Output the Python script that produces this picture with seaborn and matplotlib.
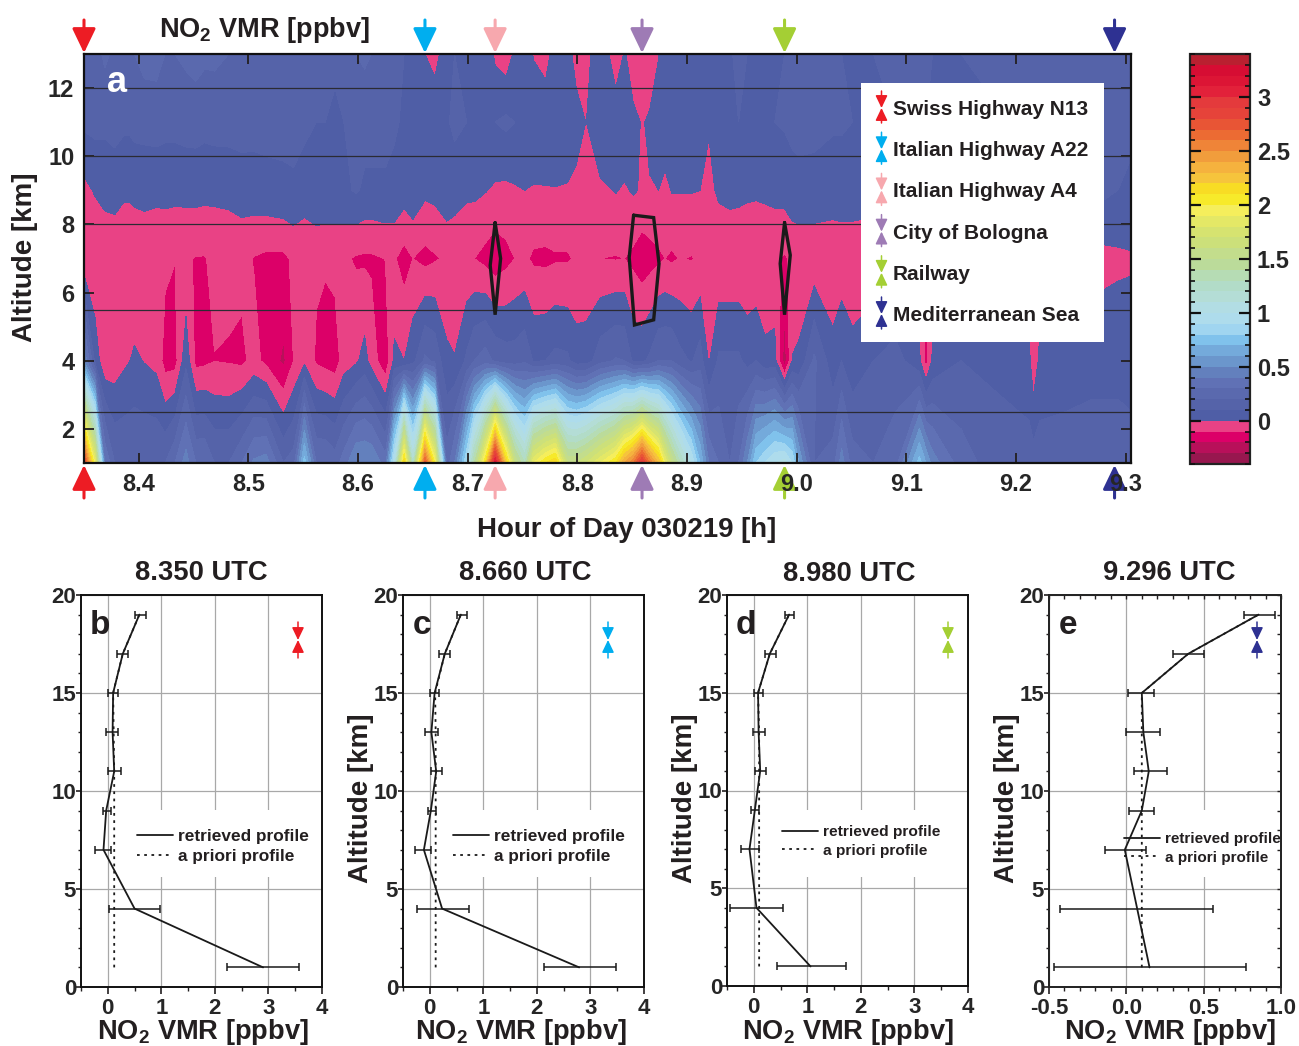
import numpy as np
import matplotlib
matplotlib.use('Agg')
import matplotlib.pyplot as plt
from matplotlib.lines import Line2D
from matplotlib.patches import Rectangle
from matplotlib.text import Annotation
from matplotlib.ticker import MultipleLocator
import seaborn as sns

sns.set_theme(style='ticks')
plt.rcParams['font.family'] = ['Liberation Sans', 'DejaVu Sans']
plt.rcParams['font.weight'] = 'bold'
plt.rcParams['mathtext.fontset'] = 'custom'
plt.rcParams['mathtext.bf'] = 'Liberation Sans:bold'
plt.rcParams['mathtext.rm'] = 'Liberation Sans:bold'
plt.rcParams['mathtext.default'] = 'bf'
plt.rcParams['text.color'] = '#231f20'

W, H = 1299, 1046

# niveis de altitude da curtain (km)
alt_a = [1, 4, 7, 9, 11, 13]

tempo = [8.350, 8.360, 8.369, 8.378, 8.386, 8.392, 8.396, 8.405, 8.416, 8.424,
         8.433, 8.443, 8.452, 8.460, 8.469, 8.482, 8.494, 8.505, 8.516, 8.532,
         8.541, 8.551, 8.562, 8.570, 8.579, 8.587, 8.598, 8.606, 8.612, 8.625,
         8.633, 8.642, 8.650, 8.661, 8.670, 8.681, 8.688, 8.699, 8.706, 8.716,
         8.725, 8.735, 8.743, 8.752, 8.760, 8.771, 8.780, 8.791, 8.799, 8.808,
         8.821, 8.835, 8.843, 8.851, 8.859, 8.866, 8.874, 8.880, 8.886, 8.894,
         8.904, 8.912, 8.920, 8.929, 8.939, 8.947, 8.955, 8.963, 8.971, 8.980,
         8.989, 8.996, 9.002, 9.016, 9.033, 9.041, 9.051, 9.070, 9.090, 9.112,
         9.118, 9.124, 9.150, 9.180, 9.212, 9.216, 9.222, 9.245, 9.270, 9.281,
         9.293, 9.306]

v01 = [2.9, 1.9, .4, .2, .2, .2, .2, .2, .2, .2,
       .3, .45, .3, .3, .2, .2, .3, .42, .45, .2,
       .25, .75, .3, .3, .25, .35, .5, .5, .5, .35,
       1.0, 2.2, 1.2, 2.75, 2.0, .25, .4, .9, 1.4, 2.1,
       3.15, 2.2, 1.6, 1.3, 1.9, 2.1, 2.2, 1.6, 1.6, 1.7,
       1.9, 2.1, 2.4, 2.6, 2.95, 2.6, 2.3, 1.9, 1.6, 1.3,
       1.0, .7, .4, .3, .2, .3, .5, .8, .9, 1.0,
       1.05, .9, .6, .2, .25, .45, .25, .2, .25, .75,
       .6, .45, .25, .15, .15, .15, .15, .15, .15, .15,
       .15, .15]
v04 = [.50, .076, -.09, -.06, -.022, 0, .016, -.005, -.03, -.14,
       -.139, .07, -.13, -.121, -.102, -.108, -.12, -.07, -.124, -.22,
       -.10, -.026, -.115, -.135, -.15, -.054, -.017, .038, -.04, -.175,
       .025, 0, .07, .22, .18, .022, .006, .12, .2, .25,
       .18, .15, .15, .18, .09, .1, .13, .12, .05, .05,
       .16, .21, .2, .08, .08, .12, .2, .2, .2, .13,
       .09, .15, -.01, .12, .12, .12, .07, .1, .033, .04,
       -.26, .005, .02, .22, .04, .1, .03, .1, .15, .02,
       -.14, .02, .1, .08, .03, -.08, .03, .05, .07, .07,
       .07, .05]
v07 = [-.09, -.10, -.09, -.09, -.09, -.09, -.09, -.09, -.09, -.08,
       -.098, -.09, -.105, -.105, -.08, -.075, -.075, -.105, -.12, -.12,
       -.085, -.09, -.085, -.09, -.07, -.085, -.11, -.115, -.115, -.098,
       -.09, -.14, -.10, -.13, -.11, -.085, -.085, -.09, -.10, -.13,
       -.16, -.13, -.10, -.085, -.115, -.12, -.11, -.11, -.09, -.08,
       -.10, -.105, -.10, -.125, -.16, -.14, -.12, -.10, -.115, -.095,
       -.105, -.09, -.09, -.09, -.09, -.09, -.09, -.09, -.10, -.085,
       -.11, -.085, -.08, -.08, -.08, -.07, -.06, -.08, -.08, -.08,
       -.09, -.08, -.07, -.07, -.07, -.07, -.06, -.05, -.04, -.03,
       -.02, -.01]
v09 = [-.03, .01, .039, .05, .02, .02, .03, .04, .03, .03,
       .03, .03, .035, .03, .025, .03, .05, .06, .07, .085,
       .09, .06, .09, .09, .07, .08, .11, .085, .085, .09,
       .08, .05, .074, .023, .03, .07, .05, .02, .02, .005,
       -.015, -.02, -.01, 0, -.01, -.008, -.005, -.01, -.03, -.02,
       -.02, .005, -.012, .01, -.01, -.003, 0, -.04, .005, .005,
       .005, 0, -.03, .02, .035, .03, .02, .016, .025, .03,
       .04, .07, .08, .075, .06, .06, .05, .05, .06, .05,
       .05, .05, .05, .05, .05, .05, .05, .06, .09, .12,
       .10, .08]
v11 = [.12, .13, .12, .13, .12, .12, .13, .13, .14, .13,
       .13, .14, .14, .13, .14, .14, .14, .13, .13, .12,
       .12, .12, .10, .10, .09, .10, .12, .13, .13, .12,
       .11, .09, .09, .10, .10, .09, .12, .10, .09, .08,
       .10, .12, .10, .09, .10, .10, .09, .08, .05, -.002,
       .09, .08, .08, .02, -.005, .01, .06, .10, .08, .08,
       .08, .07, .009, .08, .09, .10, .10, .09, .09, .10,
       .11, .12, .12, .12, .11, .11, .10, .10, .10, .10,
       .10, .10, .09, .09, .09, .09, .10, .10, .10, .11,
       .14, .12]
v13 = [.12, .16, .22, .18, .13, .15, .2, .24, .24, .2,
       .2, .22, .24, .22, .22, .2, .18, .2, .2, .18,
       .18, .16, .13, .12, .11, .15, .2, .22, .2, .16,
       .12, .1, .1, 0, -.05, .08, .1, .08, .07, .09,
       -.02, -.06, .02, .1, -.01, -.06, .07, .05, -.05, -.05,
       .1, -.08, .01, -.05, -.06, -.047, -.005, .08, .1, .1,
       .1, .09, .08, .08, .09, .12, .1, .1, .1, .1,
       .1, .1, .1, .12, .13, .1, .1, .1, .12, .12,
       .11, .1, .1, .12, .13, .13, .12, .14, .16, .18,
       .12, .14]

# escala discreta, de baixo para cima
niveis = [-.4, -.3, -.2, -.1, 0, .1, .2, .3, .4, .5, .6, .7, .8, .9, 1.0, 1.1, 1.2, 1.3, 1.4,
          1.5, 1.6, 1.7, 1.8, 1.9, 2.0, 2.1, 2.2, 2.3, 2.4, 2.5, 2.6, 2.7, 2.8, 2.9, 3.0, 3.1,
          3.2, 3.3, 3.4]
cores = ['#98174f', '#b8105a', '#dc0068', '#e94285', '#4f5ea6', '#5563a9', '#5a69ae', '#6071b5',
         '#6380bd', '#6b96cc', '#74aadb', '#80c2ec', '#a0d5f0', '#aedcec', '#b2dde4', '#b4ddd6',
         '#b2dcc8', '#b6dcb4', '#bbdb9a', '#c3dd8c', '#cce07a', '#d6e370', '#e4e866', '#f5ee5c',
         '#f7ea2a', '#f8dc24', '#f6c43c', '#f5b23e', '#f19d3c', '#ef8438', '#ec6b33', '#e85535',
         '#e6433a', '#e43a3c', '#e2213a', '#dc1535', '#d60d33', '#b92030']

# contornos pretos sobre a curtain
contorno1_t = [8.725, 8.730, 8.725, 8.7205, 8.725]
contorno1_z = [8.05, 7.0, 5.35, 6.8, 8.05]
contorno2_t = [8.8513, 8.8696, 8.8745, 8.8696, 8.8521, 8.8473, 8.8513]
contorno2_z = [8.27, 8.2, 6.85, 5.2, 5.05, 7.03, 8.27]
contorno3_t = [8.989, 8.9942, 8.989, 8.985, 8.989]
contorno3_z = [8.05, 7.1, 5.35, 6.85, 8.05]

linhas_z = [12, 10, 8, 5.5, 2.5]

fontes = ['Swiss Highway N13', 'Italian Highway A22', 'Italian Highway A4',
          'City of Bologna', 'Railway', 'Mediterranean Sea']
fontes_t = [8.350, 8.661, 8.725, 8.859, 8.989, 9.290]
fontes_cor = ['#ed1c24', '#00aeef', '#f7a8ae', '#9e7bb5', '#a4cf34', '#2e3192']

# perfis
alt_p = [1, 4, 7, 9, 11, 13, 15, 17, 19]
ret_b = [2.9, .5, -.08, -.03, .12, .09, .1, .28, .59]
min_b = [2.23, .02, -.24, -.09, 0, -.03, 0, .18, .5]
max_b = [3.57, .98, .06, .06, .24, .19, .19, .38, .71]
pri_b = [.12, .12, .12, .12, .12, .11, .1, .28, .59]

ret_c = [2.79, .23, -.11, .02, .12, .03, .09, .28, .58]
min_c = [2.14, -.24, -.27, -.03, .03, -.09, 0, .18, .5]
max_c = [3.47, .74, .03, .12, .23, .15, .17, .38, .7]
pri_c = [.11, .11, .11, .11, .11, .11, .1, .28, .58]

ret_d = [1.06, .05, -.08, .02, .12, .09, .08, .3, .66]
min_d = [.44, -.44, -.24, -.06, .02, -.02, 0, .21, .59]
max_d = [1.72, .55, .09, .09, .23, .21, .18, .42, .76]
pri_d = [.1, .1, .1, .1, .1, .1, .08, .3, .66]

ret_e = [.15, .07, -.01, .1, .145, .11, .1, .4, .855]
min_e = [-.467, -.43, -.14, .02, .05, 0, .01, .3, .76]
max_e = [.776, .56, .13, .18, .26, .22, .18, .5, .96]
pri_e = [.1, .1, .1, .1, .1, .1, .1, .4, .855]

fig = plt.figure(figsize=(W / 100, H / 100), dpi=100)


def eixo(x0, y0, x1, y1):
    return fig.add_axes([x0 / W, 1 - y1 / H, (x1 - x0) / W, (y1 - y0) / H])


def seta(x, y0, y1, cor, cab_c=.5, cab_l=.24, lw=1.1, z=3):
    # seta em pixels da figura, de y0 (cauda) ate y1 (ponta)
    fig.add_artist(Annotation(
        '', xy=(x, H - y1), xytext=(x, H - y0),
        xycoords='figure pixels', textcoords='figure pixels', zorder=z,
        arrowprops=dict(arrowstyle=f'-|>,head_length={cab_c},head_width={cab_l}',
                        color=cor, lw=lw, shrinkA=0, shrinkB=0, mutation_scale=15)))


def texto(x, y, s, fs, **kw):
    return fig.text(x / W, 1 - y / H, s, fontsize=fs, ha='center', va='center', **kw)


# painel a
ax = eixo(84, 54, 1131, 463)
Z = np.array([v01, v04, v07, v09, v11, v13])
cs = ax.contourf(tempo, alt_a, Z, levels=niveis, colors=cores)
for z in linhas_z:
    ax.axhline(z, color='#2b2b33', lw=.9, zorder=3)
for ct, cz in [(contorno1_t, contorno1_z), (contorno2_t, contorno2_z), (contorno3_t, contorno3_z)]:
    ax.plot(ct, cz, color='k', lw=2.4, zorder=4, solid_joinstyle='miter')
ax.set_xlim(8.35, 9.305)
ax.set_ylim(1, 13)
ax.set_xticks([8.4, 8.5, 8.6, 8.7, 8.8, 8.9, 9.0, 9.1, 9.2, 9.3])
ax.set_yticks([2, 4, 6, 8, 10, 12])
ax.set_axisbelow(False)
ax.tick_params(axis='both', direction='in', top=True, right=True, length=7, width=1.3,
               color='#231f20', labelsize=17)
ax.tick_params(axis='x', pad=7)
ax.tick_params(axis='y', pad=7)
for s in ax.spines.values():
    s.set_linewidth(1.6)
    s.set_color('#111111')
    s.set_zorder(6)
ax.text(117, H - 82, 'a', transform=None, color='white', fontsize=26, ha='center', va='center', zorder=7)
texto(264, 30, r'NO$_2$ VMR [ppbv]', 19.5)
texto(627, 530, 'Hour of Day 030219 [h]', 19.9)
texto(25, 257, 'Altitude [km]', 20, rotation=90)

# setas de cima e de baixo
for t, cor in zip(fontes_t, fontes_cor):
    px = 84 + (t - 8.35) / (9.305 - 8.35) * 1047
    seta(px, 20, 53, cor, cab_c=1.0, cab_l=.48, lw=2.2)
    seta(px, 498, 465, cor, cab_c=1.0, cab_l=.48, lw=2.2, z=-1)

# legenda do painel a
ax.add_patch(Rectangle(((861 - 84) / 1047, (463 - 342) / 409), 243 / 1047, 259 / 409,
                       transform=ax.transAxes, facecolor='white', edgecolor='none', zorder=5))
for i, (nome, cor) in enumerate(zip(fontes, fontes_cor)):
    yc = 108 + i * 41.2
    seta(881.5, yc - 17, yc, cor)
    seta(881.5, yc + 15, yc, cor)
    fig.text(893 / W, 1 - (yc + 1.5) / H, nome, fontsize=15, ha='left', va='center', zorder=8)

# barra de cores
cax = eixo(1190, 54, 1250, 464)
cb = fig.colorbar(cs, cax=cax, ticks=[0, .5, 1, 1.5, 2, 2.5, 3])
cb.ax.set_yticklabels(['0', '0.5', '1', '1.5', '2', '2.5', '3'])
cb.ax.yaxis.set_minor_locator(MultipleLocator(.1))
cb.ax.set_axisbelow(False)
cb.solids.set_zorder(0)
cb.ax.tick_params(which='major', direction='in', left=True, right=True, length=8, width=1.6,
                  color='#111111', labelsize=17, pad=5)
cb.ax.tick_params(which='minor', direction='in', left=True, right=True, length=3.6, width=1.2,
                  color='#111111')
cb.outline.set_linewidth(1.6)
cb.outline.set_edgecolor('#222222')

# paineis b-e: letra, titulo, caixa, dados, cor da seta, posicoes de texto, legenda
paineis = [
    ('b', '8.350 UTC', (81, 595, 322, 987), ret_b, min_b, max_b, pri_b, (-.5, 4), 0, 201, 573, 298, 203, None, (137, 829), 12.44, 130),
    ('c', '8.660 UTC', (403, 595, 644, 987), ret_c, min_c, max_c, pri_c, (-.5, 4), 1, 525, 573, 608, 521, 361, (453, 829), 12.44, 453),
    ('d', '8.980 UTC', (727, 595, 968, 986), ret_d, min_d, max_d, pri_d, (-.5, 4), 4, 849, 574, 948, 848, 685, (782, 825), 11.15, 782),
    ('e', '9.296 UTC', (1049, 595, 1281, 987), ret_e, min_e, max_e, pri_e, (-.5, 1), 5, 1169, 573, 1257, 1170, 1007, (1124, 832), 11.03, 1163),
]
for letra, titulo, caixa, ret, vmin, vmax, pri, xlim, cor_i, xt, yt, xs, xl, yl, pleg, fs, xr in paineis:
    x0, y0, x1, y1 = caixa
    a = eixo(x0, y0, x1, y1)
    sns.lineplot(x=ret, y=alt_p, sort=False, estimator=None, color='k', lw=1.3, ax=a, zorder=4)
    sns.lineplot(x=pri, y=alt_p, sort=False, estimator=None, color='k', lw=1.3, ax=a, zorder=4,
                 linestyle=(0, (1.5, 2.5)))
    a.errorbar(ret, alt_p, xerr=[np.array(ret) - np.array(vmin), np.array(vmax) - np.array(ret)],
               fmt='none', ecolor='k', elinewidth=1.1, capsize=3, capthick=1.1, zorder=4)
    a.set_xlim(*xlim)
    a.set_ylim(0, 20)
    if letra == 'e':
        a.set_xticks([-.5, 0, .5, 1])
        a.set_xticklabels(['-0.5', '0.0', '0.5', '1.0'])
        a.xaxis.set_minor_locator(MultipleLocator(.1))
    else:
        a.set_xticks([0, 1, 2, 3, 4])
        a.xaxis.set_minor_locator(MultipleLocator(.5))
    a.set_yticks([0, 5, 10, 15, 20])
    a.yaxis.set_minor_locator(MultipleLocator(1))
    a.set_axisbelow(True)
    a.grid(True, which='major', color='#a8a8a8', lw=.9)
    a.tick_params(axis='x', which='major', length=5, width=1.2, color='#231f20', labelsize=16, pad=3)
    a.tick_params(axis='x', which='minor', length=3, width=1, color='#231f20')
    a.tick_params(axis='y', which='major', length=3.5, width=1.2, color='#231f20', labelsize=16, pad=0)
    a.tick_params(axis='y', which='minor', length=2.5, width=1, color='#231f20')
    for s in a.spines.values():
        s.set_linewidth(1.4)
        s.set_color('#111111')
    if letra == 'e':
        # ticks internos em cima e a direita
        ad = a.twinx()
        ad.set_ylim(0, 20)
        ad.yaxis.set_major_locator(MultipleLocator(5))
        ad.yaxis.set_minor_locator(MultipleLocator(1))
        ad.tick_params(which='both', direction='in', labelright=False, length=3, width=1, color='#231f20')
        ac = a.twiny()
        ac.set_xlim(*xlim)
        ac.xaxis.set_major_locator(MultipleLocator(.5))
        ac.xaxis.set_minor_locator(MultipleLocator(.1))
        ac.tick_params(which='both', direction='in', labeltop=False, length=3, width=1, color='#231f20')
    # fundo branco da legenda cortando a grade
    a.add_patch(Rectangle(((xr - x0) / (x1 - x0), (y1 - 877) / (y1 - y0)), (x1 - xr) / (x1 - x0), 67 / (y1 - y0),
                          transform=a.transAxes, facecolor='white', edgecolor='none', zorder=1.5))
    lx, ly = pleg
    hl = 36 / (fs * 1.389)
    leg = a.legend(handles=[Line2D([], [], color='k', lw=1.3),
                            Line2D([], [], color='k', lw=1.3, linestyle=(0, (1.5, 2.5)))],
                   labels=['retrieved profile', 'a priori profile'],
                   loc='upper left', bbox_to_anchor=(lx / W, 1 - ly / H), bbox_transform=fig.transFigure,
                   frameon=False, fontsize=fs, borderpad=0, borderaxespad=0, handlelength=hl,
                   handletextpad=.3, labelspacing=.3)
    leg.set_zorder(5)
    a.set_xlabel('')
    a.set_ylabel('')
    texto(xl, 1032, r'NO$_2$ VMR [ppbv]', 19.6)
    if yl is not None:
        texto(yl, 798, 'Altitude [km]', 20, rotation=90)
    texto(xt, yt, titulo, 19.7)
    texto(x0 + 19, 625, letra, 24)
    seta(xs, 622, 640, fontes_cor[cor_i])
    seta(xs, 658, 640, fontes_cor[cor_i])

fig.savefig('out.png', dpi=100)
